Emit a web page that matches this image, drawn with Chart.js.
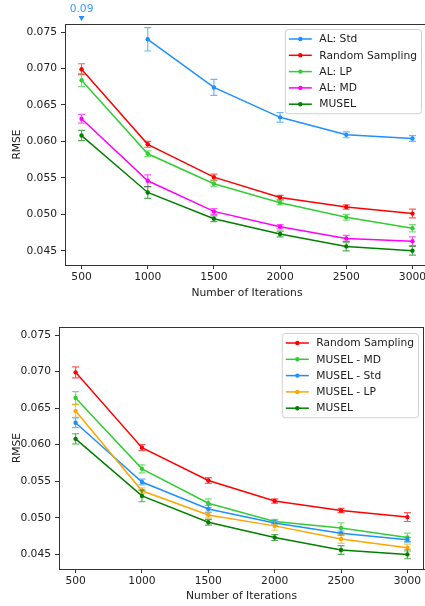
<!DOCTYPE html>
<html><head><meta charset="utf-8">
<script src="https://cdn.jsdelivr.net/npm/chart.js@4.4.1/dist/chart.umd.min.js"></script>
<style>
html,body{margin:0;padding:0;background:#fff;overflow:hidden;width:425px;height:606px;}
.wrap{position:absolute;left:0;}
</style></head><body>
<div class="wrap" style="top:0;width:429px;height:303px"><canvas id="c1" width="429" height="303"></canvas></div>
<div class="wrap" style="top:303px;width:425px;height:303px"><canvas id="c2" width="425" height="303"></canvas></div>
<script>
// ---------- data ----------
const iterations = [500, 1000, 1500, 2000, 2500, 3000];
const xTicks = [500, 1000, 1500, 2000, 2500, 3000];
const yTicks = [0.045, 0.050, 0.055, 0.060, 0.065, 0.070, 0.075];

// top chart
const alStd       = [null, 0.0740, 0.0674, 0.0633, 0.0609, 0.0604];
const alStdErr    = [0, 0.0016, 0.0011, 0.00065, 0.0004, 0.0004];
const alStdOffAxis = [0.09];           // value at 500, above the y range
const randomSampling    = [0.0699, 0.0596, 0.0551, 0.0523, 0.0510, 0.0501];
const randomSamplingErr = [0.00075, 0.0004, 0.0004, 0.0003, 0.0003, 0.0006];
const alLP     = [0.0684, 0.0583, 0.0542, 0.0516, 0.0496, 0.0481];
const alLPErr  = [0.0009, 0.0004, 0.0004, 0.0003, 0.0004, 0.0005];
const alMD     = [0.0631, 0.0546, 0.0504, 0.0483, 0.0467, 0.0463];
const alMDErr  = [0.0006, 0.0008, 0.0004, 0.0003, 0.0004, 0.0006];
const musel    = [0.0608, 0.0530, 0.0494, 0.0473, 0.0456, 0.0450];
const muselErr = [0.0007, 0.0008, 0.0004, 0.0004, 0.0006, 0.0006];

// bottom chart
const muselMD     = [0.0664, 0.0567, 0.0520, 0.0495, 0.0486, 0.0473];
const muselMDErr  = [0.00087, 0.00055, 0.0006, 0.0003, 0.0007, 0.0006];
const muselStd    = [0.0630, 0.0549, 0.0512, 0.0493, 0.0479, 0.0470];
const muselStdErr = [0.00066, 0.0004, 0.0005, 0.0003, 0.0003, 0.0003];
const muselLP     = [0.0646, 0.0537, 0.0504, 0.0489, 0.0471, 0.0459];
const muselLPErr  = [0.00087, 0.0004, 0.0004, 0.0006, 0.0006, 0.0005];

// ---------- style ----------
const FONT_FAMILY = "'DejaVu Sans', 'Liberation Sans', sans-serif";
const FONT_SIZE = 10.7;
const TEXT = '#222';
const C = {
  blue: '#1e90ff', red: '#ff0000', lime: '#32cd32',
  magenta: '#ff00ff', green: '#008000', orange: '#ffa500'
};
function rgba(hex, a) {
  const n = parseInt(hex.slice(1), 16);
  return `rgba(${(n>>16)&255},${(n>>8)&255},${n&255},${a})`;
}

Chart.defaults.font.family = FONT_FAMILY;
Chart.defaults.font.size = FONT_SIZE;
Chart.defaults.color = TEXT;

function series(label, values, errors, color, i, n) {
  return {
    label,
    data: iterations.map((x, k) => ({ x, y: values[k] })),
    errors,
    borderColor: color,
    backgroundColor: color,
    errColor: rgba(color, 0.65),
    borderWidth: 1.5,
    pointRadius: 2.2,
    pointBorderWidth: 0,
    pointBackgroundColor: color,
    tension: 0,
    spanGaps: false,
    order: n - i
  };
}

// ---------- plugins ----------
const errorBars = {
  id: 'errorBars',
  afterDatasetDraw(chart, args) {
    const ds = chart.data.datasets[args.index];
    if (!ds.errors) return;
    const xs = chart.scales.x, ys = chart.scales.y, ctx = chart.ctx, a = chart.chartArea;
    ctx.save();
    ctx.beginPath();
    ctx.rect(a.left, a.top - 1, a.right - a.left, a.bottom - a.top + 2);
    ctx.clip();
    ctx.strokeStyle = ds.errColor;
    ctx.lineWidth = 1.2;
    ds.data.forEach((p, k) => {
      if (p.y == null) return;
      const e = ds.errors[k];
      const px = xs.getPixelForValue(p.x);
      const y1 = ys.getPixelForValue(p.y - e);
      const y2 = ys.getPixelForValue(p.y + e);
      ctx.beginPath();
      ctx.moveTo(px, y1); ctx.lineTo(px, y2);
      ctx.moveTo(px - 3.5, y1); ctx.lineTo(px + 3.5, y1);
      ctx.moveTo(px - 3.5, y2); ctx.lineTo(px + 3.5, y2);
      ctx.stroke();
    });
    ctx.restore();
  }
};

const frame = {
  id: 'frame',
  afterDraw(chart) {
    const ctx = chart.ctx, a = chart.chartArea;
    ctx.save();
    ctx.strokeStyle = '#333';
    ctx.lineWidth = 1;
    ctx.beginPath();
    ctx.moveTo(a.left, a.top + 0.5); ctx.lineTo(a.right, a.top + 0.5);
    ctx.moveTo(a.right - 0.5, a.top); ctx.lineTo(a.right - 0.5, a.bottom);
    ctx.stroke();
    ctx.restore();
  }
};

function roundRect(ctx, x, y, w, h, r) {
  ctx.beginPath();
  ctx.moveTo(x + r, y);
  ctx.arcTo(x + w, y, x + w, y + h, r);
  ctx.arcTo(x + w, y + h, x, y + h, r);
  ctx.arcTo(x, y + h, x, y, r);
  ctx.arcTo(x, y, x + w, y, r);
  ctx.closePath();
}

const boxLegend = {
  id: 'boxLegend',
  afterDraw(chart, args, opts) {
    const ctx = chart.ctx;
    const items = chart.data.datasets;
    ctx.save();
    ctx.font = `${FONT_SIZE}px ${FONT_FAMILY}`;
    const tw = Math.max(...items.map(d => ctx.measureText(d.label).width));
    const w = 4 + 23 + 7.5 + tw + 4;
    const rowH = 16.3;
    const h = 19 + rowH * (items.length - 1);
    const x0 = opts.right - w, y0 = opts.top;
    roundRect(ctx, x0 + 0.5, y0 + 0.5, w, h, 3);
    ctx.fillStyle = 'rgba(255,255,255,0.8)';
    ctx.fill();
    ctx.strokeStyle = 'rgba(204,204,204,0.9)';
    ctx.lineWidth = 1;
    ctx.stroke();
    items.forEach((d, k) => {
      const cy = y0 + 10 + k * rowH;
      ctx.strokeStyle = d.borderColor;
      ctx.lineWidth = 1.5;
      ctx.beginPath();
      ctx.moveTo(x0 + 4, cy); ctx.lineTo(x0 + 27, cy);
      ctx.stroke();
      ctx.fillStyle = d.borderColor;
      ctx.beginPath();
      ctx.arc(x0 + 15.5, cy, 2.2, 0, Math.PI * 2);
      ctx.fill();
      ctx.fillStyle = TEXT;
      ctx.textBaseline = 'middle';
      ctx.textAlign = 'left';
      ctx.fillText(d.label, x0 + 34.5, cy + 0.5);
    });
    ctx.restore();
  }
};

const offAxisMark = {
  id: 'offAxisMark',
  afterDraw(chart, args, opts) {
    if (!opts.values) return;
    const ctx = chart.ctx, xs = chart.scales.x, a = chart.chartArea;
    ctx.save();
    opts.values.forEach((v, k) => {
      const px = xs.getPixelForValue(iterations[k]);
      const ty = a.top - 5;
      ctx.fillStyle = opts.color;
      ctx.beginPath();
      ctx.moveTo(px - 3, ty - 3);
      ctx.lineTo(px + 3, ty - 3);
      ctx.lineTo(px, ty + 2);
      ctx.closePath();
      ctx.fill();
      ctx.fillStyle = opts.textColor;
      ctx.font = `${FONT_SIZE}px ${FONT_FAMILY}`;
      ctx.textAlign = 'center';
      ctx.textBaseline = 'middle';
      ctx.fillText(v.toFixed(2), px, a.top - 15);
    });
    ctx.restore();
  }
};

function makeChart(id, datasets, cfg) {
  return new Chart(document.getElementById(id), {
    type: 'line',
    data: { datasets },
    options: {
      responsive: false,
      animation: false,
      devicePixelRatio: 1,
      layout: { autoPadding: false, padding: { top: 24, left: 0, right: cfg.padRight, bottom: 0 } },
      plugins: {
        legend: { display: false },
        tooltip: { enabled: false },
        boxLegend: { right: cfg.legendRight, top: cfg.legendTop },
        offAxisMark: cfg.offAxis || {}
      },
      scales: {
        x: {
          type: 'linear', min: 375, max: 3125,
          afterBuildTicks: s => { s.ticks = xTicks.map(v => ({ value: v })); },
          afterFit: s => { s.height = cfg.xAxisH; s.paddingLeft = 0; s.paddingRight = 0; },
          grid: { drawOnChartArea: false, drawTicks: true, tickLength: 4, tickColor: '#333' },
          border: { display: true, color: '#333', width: 1 },
          ticks: { padding: 2, maxRotation: 0, autoSkip: false, callback: v => String(v), color: TEXT },
          title: { display: true, text: 'Number of Iterations', color: TEXT, padding: { top: 0, bottom: 3.4 } }
        },
        y: {
          type: 'linear', min: cfg.yMin, max: cfg.yMax,
          afterBuildTicks: s => { s.ticks = yTicks.map(v => ({ value: v })); },
          afterFit: s => { s.width = cfg.yAxisW; s.paddingTop = 0; s.paddingBottom = 0; },
          grid: { drawOnChartArea: false, drawTicks: true, tickLength: 4, tickColor: '#333' },
          border: { display: true, color: '#333', width: 1 },
          ticks: { padding: 4, callback: v => v.toFixed(3), color: TEXT },
          title: { display: true, text: 'RMSE', color: TEXT, padding: { top: 10.7, bottom: 0 } }
        }
      }
    },
    plugins: [errorBars, frame, boxLegend, offAxisMark]
  });
}

const topSets = [
  ['AL: Std', alStd, alStdErr, C.blue],
  ['Random Sampling', randomSampling, randomSamplingErr, C.red],
  ['AL: LP', alLP, alLPErr, C.lime],
  ['AL: MD', alMD, alMDErr, C.magenta],
  ['MUSEL', musel, muselErr, C.green]
];
makeChart('c1', topSets.map((s, i) => series(s[0], s[1], s[2], s[3], i, topSets.length)), {
  padRight: 0, yAxisW: 65, xAxisH: 38, yMin: 0.04305, yMax: 0.0761,
  legendRight: 421, legendTop: 29,
  offAxis: { values: alStdOffAxis, color: C.blue, textColor: '#3a9bff' }
});

const botSets = [
  ['Random Sampling', randomSampling, randomSamplingErr, C.red],
  ['MUSEL - MD', muselMD, muselMDErr, C.lime],
  ['MUSEL - Std', muselStd, muselStdErr, C.blue],
  ['MUSEL - LP', muselLP, muselLPErr, C.orange],
  ['MUSEL', musel, muselErr, C.green]
];
makeChart('c2', botSets.map((s, i) => series(s[0], s[1], s[2], s[3], i, botSets.length)), {
  padRight: 1, yAxisW: 59, xAxisH: 37, yMin: 0.0430, yMax: 0.0761,
  legendRight: 418, legendTop: 30
});
</script>
</body></html>
